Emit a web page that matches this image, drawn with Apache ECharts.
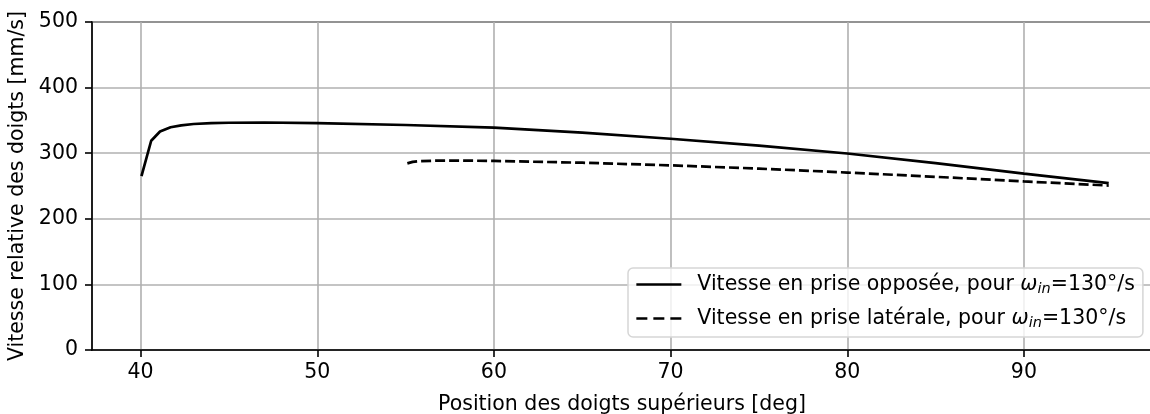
<!DOCTYPE html>
<html>
<head>
<meta charset="utf-8">
<script src="https://cdn.jsdelivr.net/npm/echarts@6/dist/echarts.min.js"></script>
<style>
  html, body { margin: 0; padding: 0; background: #fff; }
  #main { width: 1150px; height: 414px; }
</style>
</head>
<body>
<div id="main"></div>
<script>
// position des doigts (deg) / vitesse (mm/s)
var oppX = [40.05, 40.6, 41.1, 41.7, 42.3, 43, 44, 45, 47, 50, 55, 60, 65, 70, 75, 80, 85, 90, 94.8];
var oppY = [265, 319, 333, 339.5, 342.5, 344.5, 345.8, 346.4, 346.8, 345.8, 343, 339, 331.5, 322, 311.5, 299.5, 285, 269, 254.5];
var latX = [55.1, 55.4, 55.8, 56.5, 58, 60, 65, 70, 75, 80, 85, 90, 94.8];
var latY = [284.5, 286.8, 287.8, 288.5, 288.8, 288.2, 285.5, 281.5, 276.5, 270.5, 264, 257, 250.7];
var yTicks = [0, 100, 200, 300, 400, 500];

var nameOpp = 'Vitesse en prise opposée, pour ';
var nameLat = 'Vitesse en prise latérale, pour ';

function pairs(xs, ys) {
    var out = [];
    for (var i = 0; i < xs.length; i++) out.push([xs[i], ys[i]]);
    return out;
}

var font = 'DejaVu Sans';
var fs = 20.5;
var myChart = echarts.init(document.getElementById('main'));
var option = {
    backgroundColor: '#fff',
    animation: false,
    textStyle: { fontFamily: font },
    grid: {
        left: 92, right: -2, top: 22, bottom: 64,
        outerBoundsMode: 'none',
        containLabel: false,
        show: true, borderColor: '#000', borderWidth: 1.6
    },
    legend: {
        orient: 'vertical',
        left: 628, top: 268,
        padding: [6, 8, 6, 7],
        itemGap: 11,
        itemWidth: 45, itemHeight: 24,
        backgroundColor: 'rgba(255,255,255,0.8)',
        borderColor: '#d6d6d6', borderWidth: 1.5, borderRadius: 5,
        itemStyle: { opacity: 0 },
        data: [
            { name: nameOpp, lineStyle: { width: 2.7 } },
            { name: nameLat, lineStyle: { width: 2.7, type: [11, 6] } }
        ],
        formatter: function (name) {
            return '{b|' + name + '}{w|ω}{s|in}{a|=130°/s}';
        },
        textStyle: {
            color: '#000', fontFamily: font, fontSize: fs,
            rich: {
                a: { fontSize: fs, fontFamily: font, color: '#000' },
                b: { fontSize: fs, fontFamily: font, color: '#000', padding: [0, 0, 0, 11] },
                w: { fontSize: fs, fontFamily: font, fontStyle: 'italic', color: '#000' },
                s: { fontSize: 14.5, fontFamily: font, fontStyle: 'italic', color: '#000', padding: [10, 0, 0, 0] }
            }
        }
    },
    xAxis: {
        type: 'value',
        min: 37.25, max: 97.25,
        splitNumber: 6,
        name: 'Position des doigts supérieurs [deg]',
        nameLocation: 'middle', nameGap: 44,
        nameTextStyle: { fontSize: fs, color: '#000', fontFamily: font },
        axisLine: { show: true, onZero: false, lineStyle: { color: '#000', width: 1.6 } },
        axisTick: { show: true, length: 7, lineStyle: { color: '#000', width: 1.6 } },
        axisLabel: { show: true, fontSize: fs, color: '#000', margin: 12, showMinLabel: false, showMaxLabel: false },
        splitLine: { show: true, lineStyle: { color: '#b0b0b0', width: 1.6 } }
    },
    yAxis: {
        type: 'value',
        min: yTicks[0], max: yTicks[yTicks.length - 1], interval: 100,
        name: 'Vitesse relative des doigts [mm/s]',
        nameLocation: 'middle', nameGap: 64,
        nameTextStyle: { fontSize: fs, color: '#000', fontFamily: font },
        axisLine: { show: true, lineStyle: { color: '#000', width: 1.6 } },
        axisTick: { show: true, length: 7, lineStyle: { color: '#000', width: 1.6 } },
        axisLabel: { fontSize: fs, color: '#000', margin: 14 },
        splitLine: { show: true, lineStyle: { color: '#b0b0b0', width: 1.6 } }
    },
    series: [
        {
            name: nameOpp,
            type: 'line',
            data: pairs(oppX, oppY),
            symbol: 'none', showSymbol: false,
            lineStyle: { color: '#000', width: 2.7 },
            itemStyle: { color: '#000' }
        },
        {
            name: nameLat,
            type: 'line',
            data: pairs(latX, latY),
            symbol: 'none', showSymbol: false,
            lineStyle: { color: '#000', width: 2.7, type: [10, 4] },
            itemStyle: { color: '#000' }
        }
    ]
};
myChart.setOption(option);
</script>
</body>
</html>
